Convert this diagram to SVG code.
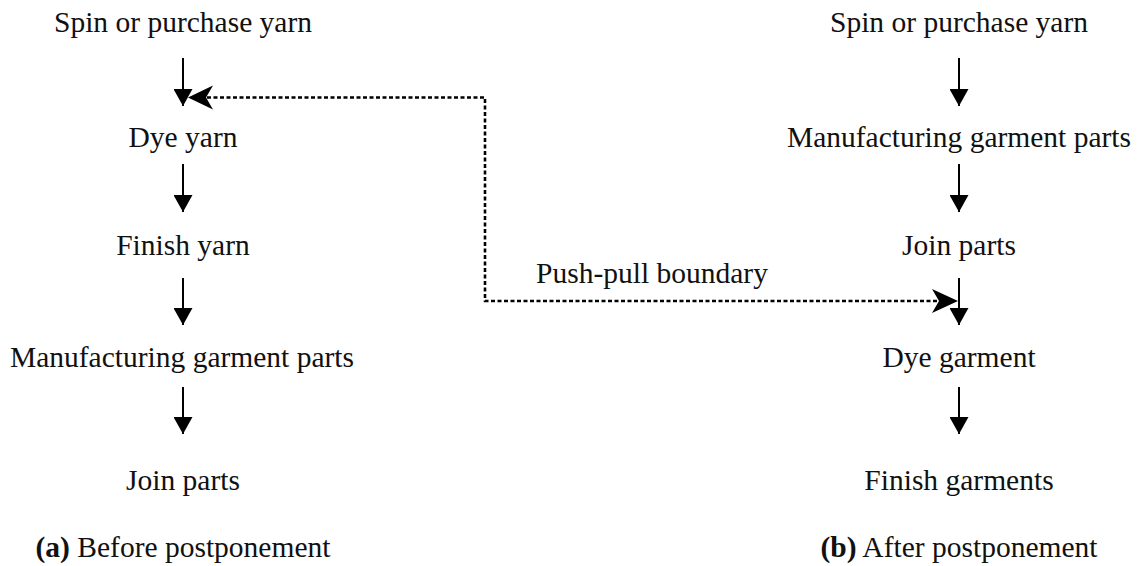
<svg xmlns="http://www.w3.org/2000/svg" width="1141" height="566" viewBox="0 0 1141 566">
  <style>
    .lbl { font-family: "Liberation Serif", "Times New Roman", serif; font-size: 29.5px; fill: #111; text-anchor: middle; }
    .cap { font-family: "Liberation Serif", "Times New Roman", serif; font-size: 29.5px; fill: #111; text-anchor: middle; }
    .cap tspan.b { font-weight: bold; }
    .flow { stroke: #000; stroke-width: 2; fill: none; marker-end: url(#tri); }
    .pp { stroke: #000; stroke-width: 2.6; fill: none; stroke-dasharray: 4 2.5; }
    .barb { fill: #000; }
  </style>
  <defs>
    <marker id="tri" viewBox="0 0 17 19" refX="17" refY="9.5" markerWidth="17" markerHeight="19" markerUnits="userSpaceOnUse" orient="auto">
      <path d="M0,0 L17,9.5 L0,19 Z" fill="#000"/>
    </marker>
  </defs>
  <rect width="1141" height="566" fill="#fff"/>

  <!-- (a) Before postponement -->
  <g id="a-spin"><text class="lbl" x="183" y="32">Spin or purchase yarn</text></g>
  <g id="a-dye"><text class="lbl" x="183" y="147">Dye yarn</text></g>
  <g id="a-finish"><text class="lbl" x="183" y="255">Finish yarn</text></g>
  <g id="a-manufacture"><text class="lbl" x="182" y="367">Manufacturing garment parts</text></g>
  <g id="a-join"><text class="lbl" x="183" y="490">Join parts</text></g>
  <g id="a-caption"><text class="cap" x="183" y="557"><tspan class="b">(a)</tspan> Before postponement</text></g>

  <!-- (b) After postponement -->
  <g id="b-spin"><text class="lbl" x="959" y="32">Spin or purchase yarn</text></g>
  <g id="b-manufacture"><text class="lbl" x="959" y="147">Manufacturing garment parts</text></g>
  <g id="b-join"><text class="lbl" x="959" y="255">Join parts</text></g>
  <g id="b-dye"><text class="lbl" x="959" y="367">Dye garment</text></g>
  <g id="b-finish"><text class="lbl" x="959" y="490">Finish garments</text></g>
  <g id="b-caption"><text class="cap" x="959" y="557"><tspan class="b">(b)</tspan> After postponement</text></g>

  <g id="boundary-label"><text class="lbl" x="652" y="283">Push-pull boundary</text></g>

  <g id="connectors">
    <line class="flow" x1="183" y1="58" x2="183" y2="106"/>
    <line class="flow" x1="183" y1="164" x2="183" y2="212"/>
    <line class="flow" x1="183" y1="278" x2="183" y2="325"/>
    <line class="flow" x1="183" y1="387" x2="183" y2="434"/>

    <line class="flow" x1="959" y1="58" x2="959" y2="106"/>
    <line class="flow" x1="959" y1="164" x2="959" y2="212"/>
    <line class="flow" x1="959" y1="278" x2="959" y2="325"/>
    <line class="flow" x1="959" y1="387" x2="959" y2="434"/>

    <!-- push-pull boundary: dotted line with barbed heads at both ends -->
    <path class="pp" d="M207,97.5 H485 V301 H940"/>
    <polygon class="barb" points="188,97.5 213,85.5 206,97.5 213,109.5"/>
    <polygon class="barb" points="958,301 932,289 939,301 932,313"/>
  </g>
</svg>
